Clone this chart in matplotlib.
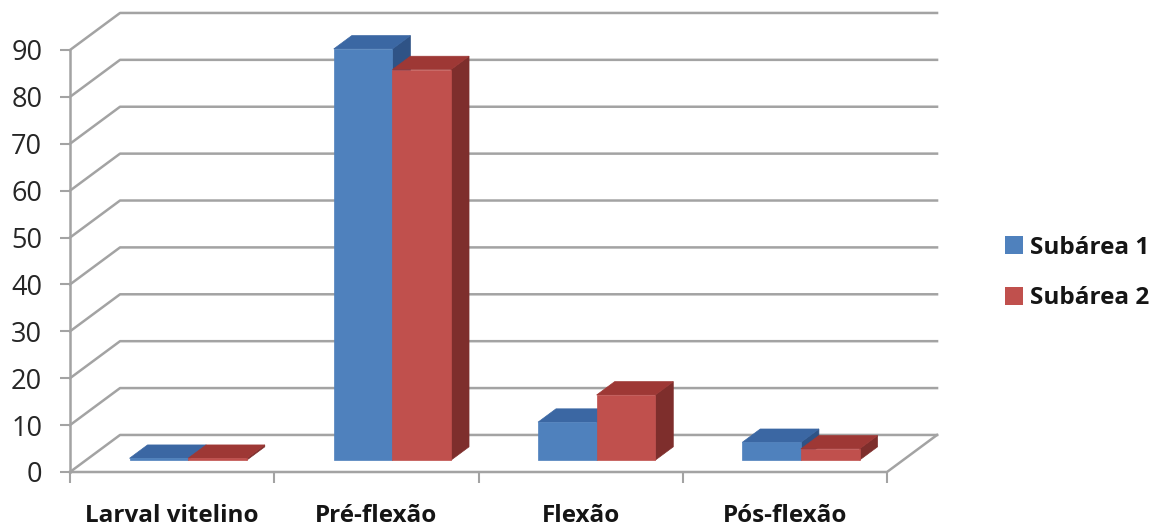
import matplotlib
matplotlib.use('Agg')
import matplotlib.pyplot as plt
from matplotlib.patches import Polygon, Patch

plt.rcParams['font.family'] = ['Open Sans', 'DejaVu Sans']

# Data
categories = ['Larval vitelino', 'Pré-flexão', 'Flexão', 'Pós-flexão']
series_names = ['Subárea 1', 'Subárea 2']
subarea_1 = [0.4, 87.7, 8.1, 3.8]
subarea_2 = [0.4, 83.3, 13.9, 2.4]
y_ticks = list(range(0, 100, 10))

# Colours (front, top, side) for each series
colors = [
    ('#4F81BD', '#3B67A3', '#2F5386'),
    ('#C0504D', '#9E3835', '#7E2E2C'),
]

# Oblique 3D look: offset of the back wall, in data units
wall_dx, wall_dy = 0.245, 7.9
front_f, back_f = 0.32, 0.68   # depth range occupied by the bars
bar_w = 0.287

fig = plt.figure(figsize=(11.62, 5.30), dpi=100)
ax = fig.add_axes([70 / 1162, 58 / 530, 817 / 1162, 422 / 530])
ax.set_xlim(0, len(categories))
ax.set_ylim(0, 90)
for s in ax.spines.values():
    s.set_visible(False)

grid_c = '#A3A3A3'
n = len(categories)

# walls: side diagonals + back gridlines
for v in y_ticks:
    ax.plot([0, wall_dx, n + wall_dx], [v, v + wall_dy, v + wall_dy],
            color=grid_c, lw=1.8, clip_on=False, zorder=1)
# left axis line and floor edges
ax.plot([0, 0], [0, 90], color=grid_c, lw=1.8, clip_on=False, zorder=1)
ax.plot([0, n, n + wall_dx], [0, 0, wall_dy], color=grid_c, lw=1.8,
        clip_on=False, zorder=1)

# tick marks
ax.set_yticks(y_ticks)
ax.tick_params(axis='y', length=7, width=1.5, color=grid_c, pad=13,
               labelsize=19.5, labelcolor='#262626')
ax.set_xticks(range(n + 1))
ax.set_xticks([i + 0.5 for i in range(n)], minor=True)
ax.set_xticklabels([])
ax.set_xticklabels(categories, minor=True, fontweight='bold', fontsize=17.5,
                   color='#151515')
ax.tick_params(axis='x', which='major', length=8, width=1.5, color=grid_c)
ax.tick_params(axis='x', which='minor', length=0, pad=23)


def draw_bar(x0, v, cols):
    x1 = x0 + bar_w
    fx, fy = front_f * wall_dx, front_f * wall_dy
    bx, by = back_f * wall_dx, back_f * wall_dy
    front = [(x0 + fx, fy), (x1 + fx, fy), (x1 + fx, v + fy), (x0 + fx, v + fy)]
    top = [(x0 + fx, v + fy), (x1 + fx, v + fy), (x1 + bx, v + by), (x0 + bx, v + by)]
    side = [(x1 + fx, fy), (x1 + bx, by), (x1 + bx, v + by), (x1 + fx, v + fy)]
    for pts, c in zip([side, top, front], [cols[2], cols[1], cols[0]]):
        ax.add_patch(Polygon(pts, closed=True, facecolor=c, edgecolor=c,
                             lw=0.5, clip_on=False, zorder=3))


for i in range(n):
    center = i + 0.5
    draw_bar(center - bar_w, subarea_1[i], colors[0])
    draw_bar(center, subarea_2[i], colors[1])

handles = [Patch(facecolor=colors[0][0]), Patch(facecolor=colors[1][0])]
fig.legend(handles, series_names, loc='center left',
           bbox_to_anchor=(983 / 1162, 1 - 273 / 530), frameon=False,
           prop={'weight': 'bold', 'size': 17.5}, handlelength=0.75,
           handleheight=0.75, handletextpad=0.3, labelspacing=1.1,
           labelcolor='#151515')

fig.savefig('out.png', dpi=100)
